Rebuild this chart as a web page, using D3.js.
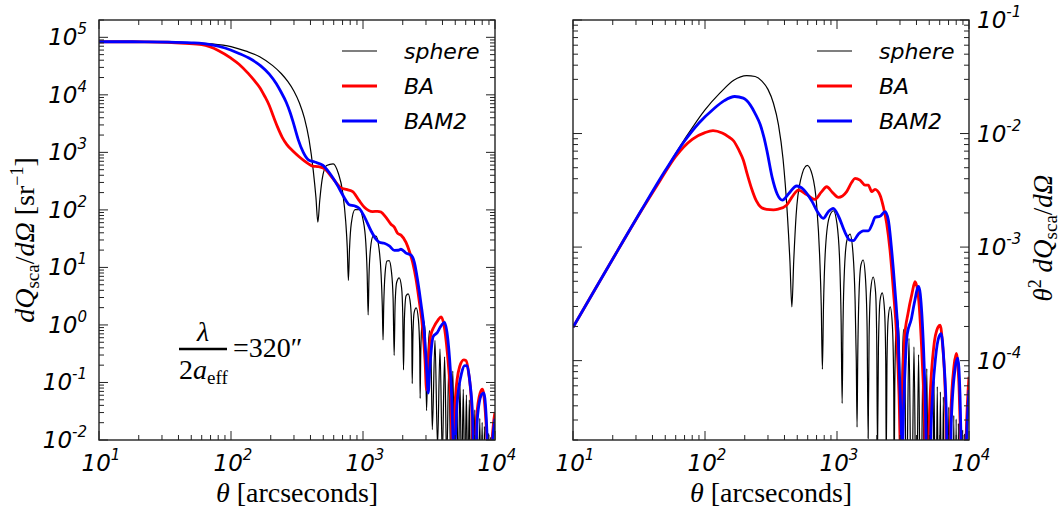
<!DOCTYPE html>
<html><head><meta charset="utf-8">
<script src="https://cdn.jsdelivr.net/npm/d3@7"></script>
<style>body{margin:0;background:#fff}svg{display:block}</style>
</head><body>
<svg id="c" width="1062" height="510"></svg>
<script>
// ---------------- data: theta [arcsec] and theta^2 dQsca/dOmega (theta in rad) ----------------
const seriesNames = ["sphere", "BA", "BAM2"];
const xTicks = [10, 100, 1000, 10000];
const leftYTicks = [1e-2, 1e-1, 1e0, 1e1, 1e2, 1e3, 1e4, 1e5];
const rightYTicks = [1e-4, 1e-3, 1e-2, 1e-1];

const sphereTheta = [10,15,22,33,50,70,100,130,165,207,240,270,300,330,360,390,420,440,455,470,490,530,594,650,700,740,760,775,790,815,870,940,1000,1050,1075,1094,1110,1140,1190,1255,1320,1370,1400,1419,1435,1470,1520,1578,1640,1690,1722,1750,1800,1880,1960,2000,2027,2060,2120,2200,2290,2340,2360,2390,2440,2530,2630,2690,2710,2740,2790,2870,2960,3030,3100,3190,3280,3350,3510,3670,3830,3990,4150,4310,4470,4630,4790,4950,5110,5270,5430,5590,5750,5910,6070,6230,6390,6550,6710,6870,7030,7190,7350,7510,7670,7830,7990,8150,8310,8470,8630,8790,8950,9110,9270,9430,9590,9750,9910,10000];
const sphereVal = [1.97e-4,4.43e-4,9.5e-4,2.12e-3,4.75e-3,8.9e-3,0.0162,0.0228,0.0295,0.0324,0.0318,0.029,0.0245,0.0185,0.012,6.0e-3,2.0e-3,7.5e-4,2.97e-4,7.5e-4,1.9e-3,3.9e-3,5.25e-3,4.3e-3,2.4e-3,8e-4,3e-4,8.4e-5,3e-4,9e-4,1.8e-3,2.09e-3,1.6e-3,7e-4,2.2e-4,4.2e-5,2e-4,6.5e-4,1.15e-3,1.3e-3,9e-4,3.5e-4,1e-4,2.6e-5,1e-4,4e-4,7e-4,7.7e-4,5.5e-4,2e-4,2.06e-5,1.6e-4,4.2e-4,5.45e-4,4e-4,1.5e-4,1.6e-5,1.3e-4,3.4e-4,3.95e-4,2.8e-4,1e-4,1.25e-5,9e-5,2.3e-4,2.97e-4,2e-4,6e-5,9.1e-6,6e-5,1.7e-4,2.34e-4,1.5e-4,7e-6,6e-5,1.9e-4,6e-5,4e-6,1.57e-4,2.5e-6,1.32e-4,2e-6,1.13e-4,1.8e-6,9.7e-5,1.6e-6,8.5e-5,1.5e-6,7.4e-5,1.4e-6,6.6e-5,1.3e-6,5.9e-5,1.2e-6,5.3e-5,1.1e-6,4.8e-5,1e-6,4.3e-5,9.5e-7,3.9e-5,9e-7,3.6e-5,8.5e-7,3.3e-5,8e-7,3.05e-5,7.5e-7,2.8e-5,7e-7,2.6e-5,6.5e-7,2.45e-5,6e-7,2.27e-5,5.5e-7,2.1e-5,5e-7,1.98e-5,8e-6];

const baTheta = [10,15,22,33,45,60,80,100,115,135,150,165,180,195,210,225,245,265,293,330,359,415,460,509,590,681,760,835,930,1024,1184,1290,1368,1493,1629,1726,1831,1940,2117,2245,2378,2521,2673,2832,2950,3030,3100,3250,3450,3700,3900,4100,4350,4600,4800,5000,5400,5800,6040,6300,6650,6950,7250,7700,8040,8400,8800,9100,9500,10000];
const baVal = [1.97e-4,4.43e-4,9.5e-4,2.1e-3,3.75e-3,6.3e-3,8.9e-3,0.0102,0.0106,0.0101,9.4e-3,8.6e-3,7.2e-3,5.85e-3,4.3e-3,3.3e-3,2.55e-3,2.25e-3,2.15e-3,2.13e-3,2.16e-3,2.34e-3,2.8e-3,3.18e-3,2.9e-3,2.63e-3,3.05e-3,3.4e-3,3.0e-3,2.74e-3,3.08e-3,3.7e-3,4.03e-3,3.89e-3,3.52e-3,3.52e-3,3.08e-3,3.22e-3,2.87e-3,2.26e-3,1.62e-3,9.4e-4,4.18e-4,1.62e-4,5e-5,1.6e-5,4e-5,1.6e-4,2.6e-4,3.9e-4,4.95e-4,4e-4,1.5e-4,3e-5,3e-6,3e-5,1.3e-4,1.95e-4,2.05e-4,1.4e-4,4e-5,2e-6,3e-5,9e-5,1.16e-4,6e-5,1e-5,1.5e-6,2e-5,7.2e-5];

const bam2Theta = [10,15,22,33,50,70,90,115,140,168,195,220,240,262,280,295,323,353,386,430,495,560,650,720,787,860,937,1030,1150,1250,1330,1450,1581,1726,1850,1940,2117,2312,2449,2595,2750,2913,3030,3120,3200,3400,3650,3850,4150,4400,4650,4900,5150,5600,5900,6150,6450,6750,7000,7350,7900,8220,8550,8900,9120,9500,10000];
const bam2Val = [1.97e-4,4.43e-4,9.5e-4,2.12e-3,4.72e-3,8.6e-3,0.0124,0.0163,0.0195,0.0212,0.0205,0.0179,0.015,0.012,9.2e-3,7.0e-3,4.09e-3,2.92e-3,2.59e-3,2.95e-3,3.45e-3,3.2e-3,2.5e-3,2.0e-3,1.79e-3,2.05e-3,2.19e-3,1.85e-3,1.35e-3,1.15e-3,1.14e-3,1.3e-3,1.39e-3,1.39e-3,1.6e-3,1.83e-3,1.87e-3,2.05e-3,1.73e-3,9.4e-4,4.18e-4,1.52e-4,4e-5,1.5e-5,4e-5,1.7e-4,2.3e-4,3.2e-4,4.5e-4,2.5e-4,5e-5,3e-6,2.5e-5,1.1e-4,1.6e-4,1.73e-4,1e-4,3e-5,2e-6,3e-5,9e-5,1.05e-4,5e-5,6e-6,1.5e-6,1.5e-5,5.5e-5];

const colors = {sphere: "#000000", BA: "#ff0000", BAM2: "#0000ff"};
const widths = {sphere: 1.2, BA: 2.8, BAM2: 2.8};
const ARCSEC = Math.PI / 180 / 3600;

const series = [
  {name: "sphere", theta: sphereTheta, val: sphereVal},
  {name: "BA", theta: baTheta, val: baVal},
  {name: "BAM2", theta: bam2Theta, val: bam2Val}
];

// ---------------- drawing ----------------
const svg = d3.select("#c");
const TICKFONT = "DejaVu Sans";
const SERIF = "Liberation Serif";

function supLabel(sel, v) {
  const e = Math.round(Math.log10(v));
  sel.append("tspan").text("10");
  sel.append("tspan").attr("dy", -11).attr("font-size", 15).text(String(e));
}

function makePanel(opt) {
  const {x0, x1, y0, y1, yDomain, yTicks, labelSide, transform, clipId} = opt;
  const x = d3.scaleLog().domain([10, 1e4]).range([x0, x1]);
  const y = d3.scaleLog().domain(yDomain).range([y1, y0]);
  const g = svg.append("g");

  g.append("clipPath").attr("id", clipId).append("rect")
    .attr("x", x0).attr("y", y0).attr("width", x1 - x0).attr("height", y1 - y0);

  const line = d3.line()
    .x(d => x(d[0])).y(d => y(d[1]))
    .curve(d3.curveMonotoneX);

  const plot = g.append("g").attr("clip-path", `url(#${clipId})`);
  series.forEach(s => {
    const pts = s.theta.map((t, i) => [t, transform(t, s.val[i])]);
    plot.append("path").datum(pts)
      .attr("d", line)
      .attr("fill", "none")
      .attr("stroke", colors[s.name])
      .attr("stroke-width", widths[s.name])
      .attr("stroke-linejoin", "round");
  });

  // ticks (inward) on all four sides
  const xMinor = x.ticks().filter(v => !xTicks.includes(v));
  const yMajor = yTicks;
  const yMinor = y.ticks().filter(v => Math.abs(Math.log10(v) - Math.round(Math.log10(v))) > 1e-6);
  const tk = g.append("g").attr("stroke", "#222").attr("stroke-width", 1);
  const MAJ = 9, MIN = 5;
  function vt(list, len) {
    list.forEach(v => {
      const px = x(v);
      tk.append("line").attr("x1", px).attr("x2", px).attr("y1", y1).attr("y2", y1 - len);
      tk.append("line").attr("x1", px).attr("x2", px).attr("y1", y0).attr("y2", y0 + len);
    });
  }
  function ht(list, len) {
    list.forEach(v => {
      const py = y(v);
      if (py < y0 - 0.5 || py > y1 + 0.5) return;
      tk.append("line").attr("y1", py).attr("y2", py).attr("x1", x0).attr("x2", x0 + len);
      tk.append("line").attr("y1", py).attr("y2", py).attr("x1", x1).attr("x2", x1 - len);
    });
  }
  vt(xTicks, MAJ); vt(xMinor, MIN);
  ht(yMajor, MAJ); ht(yMinor, MIN);

  g.append("rect").attr("x", x0).attr("y", y0).attr("width", x1 - x0).attr("height", y1 - y0)
    .attr("fill", "none").attr("stroke", "#222").attr("stroke-width", 1.4);

  // x tick labels
  xTicks.forEach(v => {
    const t = g.append("text").attr("x", x(v) + 2).attr("y", y1 + 31)
      .attr("text-anchor", "middle").attr("font-family", TICKFONT)
      .attr("font-style", "italic").attr("font-size", 23).attr("fill", "#000");
    supLabel(t, v);
  });
  // y tick labels
  yMajor.forEach(v => {
    const t = g.append("text")
      .attr("y", y(v) + 8)
      .attr("font-family", TICKFONT).attr("font-style", "italic")
      .attr("font-size", 23).attr("fill", "#000");
    if (labelSide === "left") t.attr("x", x0 - 12).attr("text-anchor", "end");
    else t.attr("x", x1 + 8).attr("text-anchor", "start");
    supLabel(t, v);
  });

  // x axis label
  const xl = g.append("text").attr("x", (x0 + x1) / 2).attr("y", y1 + 62)
    .attr("text-anchor", "middle").attr("font-family", SERIF).attr("font-size", 28);
  xl.append("tspan").attr("font-style", "italic").text("θ");
  xl.append("tspan").text(" [arcseconds]");

  // legend
  const lx = x0 + (labelSide === "left" ? 243 : 244);
  series.forEach((s, i) => {
    const ly = y0 + 31 + i * 35;
    g.append("line").attr("x1", lx).attr("x2", lx + 35).attr("y1", ly).attr("y2", ly)
      .attr("stroke", colors[s.name]).attr("stroke-width", widths[s.name]);
    g.append("text").attr("x", lx + 62).attr("y", ly + 8)
      .attr("font-family", TICKFONT).attr("font-style", "italic").attr("font-size", 22)
      .text(s.name);
  });
  return {x, y, g};
}

const left = makePanel({
  x0: 99, x1: 495, y0: 20, y1: 440, yDomain: [1e-2, 2e5], yTicks: leftYTicks,
  labelSide: "left", clipId: "clipL",
  transform: (t, v) => v / Math.pow(t * ARCSEC, 2)
});
const right = makePanel({
  x0: 573, x1: 969, y0: 20, y1: 440, yDomain: [2e-5, 1e-1], yTicks: rightYTicks,
  labelSide: "right", clipId: "clipR",
  transform: (t, v) => v
});

// left y label
const yl = svg.append("text").attr("transform", "translate(34,240) rotate(-90)")
  .attr("text-anchor", "middle").attr("font-family", SERIF).attr("font-size", 28);
yl.append("tspan").attr("font-style", "italic").text("dQ");
yl.append("tspan").attr("dy", 5).attr("font-size", 19).text("sca");
yl.append("tspan").attr("dy", -5).text("/");
yl.append("tspan").attr("font-style", "italic").text("d");
yl.append("tspan").attr("font-style", "italic").text("Ω");
yl.append("tspan").text(" [sr");
yl.append("tspan").attr("dy", -11).attr("font-size", 18).text("−1");
yl.append("tspan").attr("dy", 11).text("]");

// right y label
const yr = svg.append("text").attr("transform", "translate(1052,238) rotate(-90)")
  .attr("text-anchor", "middle").attr("font-family", SERIF).attr("font-size", 27);
yr.append("tspan").attr("font-style", "italic").text("θ");
yr.append("tspan").attr("dy", -11).attr("font-size", 18).text("2");
yr.append("tspan").attr("dy", 11).attr("font-style", "italic").text(" dQ");
yr.append("tspan").attr("dy", 5).attr("font-size", 19).text("sca");
yr.append("tspan").attr("dy", -5).text("/");
yr.append("tspan").attr("font-style", "italic").text("dΩ");

// annotation lambda / 2a_eff = 320"
const ann = svg.append("g").attr("font-family", SERIF).attr("font-size", 28);
ann.append("text").attr("x", 203).attr("y", 341).attr("text-anchor", "middle")
  .attr("font-style", "italic").text("λ");
ann.append("line").attr("x1", 179).attr("x2", 227).attr("y1", 349).attr("y2", 349)
  .attr("stroke", "#000").attr("stroke-width", 2.4);
const den = ann.append("text").attr("x", 179).attr("y", 379);
den.append("tspan").text("2");
den.append("tspan").attr("font-style", "italic").text("a");
den.append("tspan").attr("dy", 5).attr("font-size", 19).text("eff");
ann.append("text").attr("x", 233).attr("y", 357).text("=320″");
</script>
</body></html>
